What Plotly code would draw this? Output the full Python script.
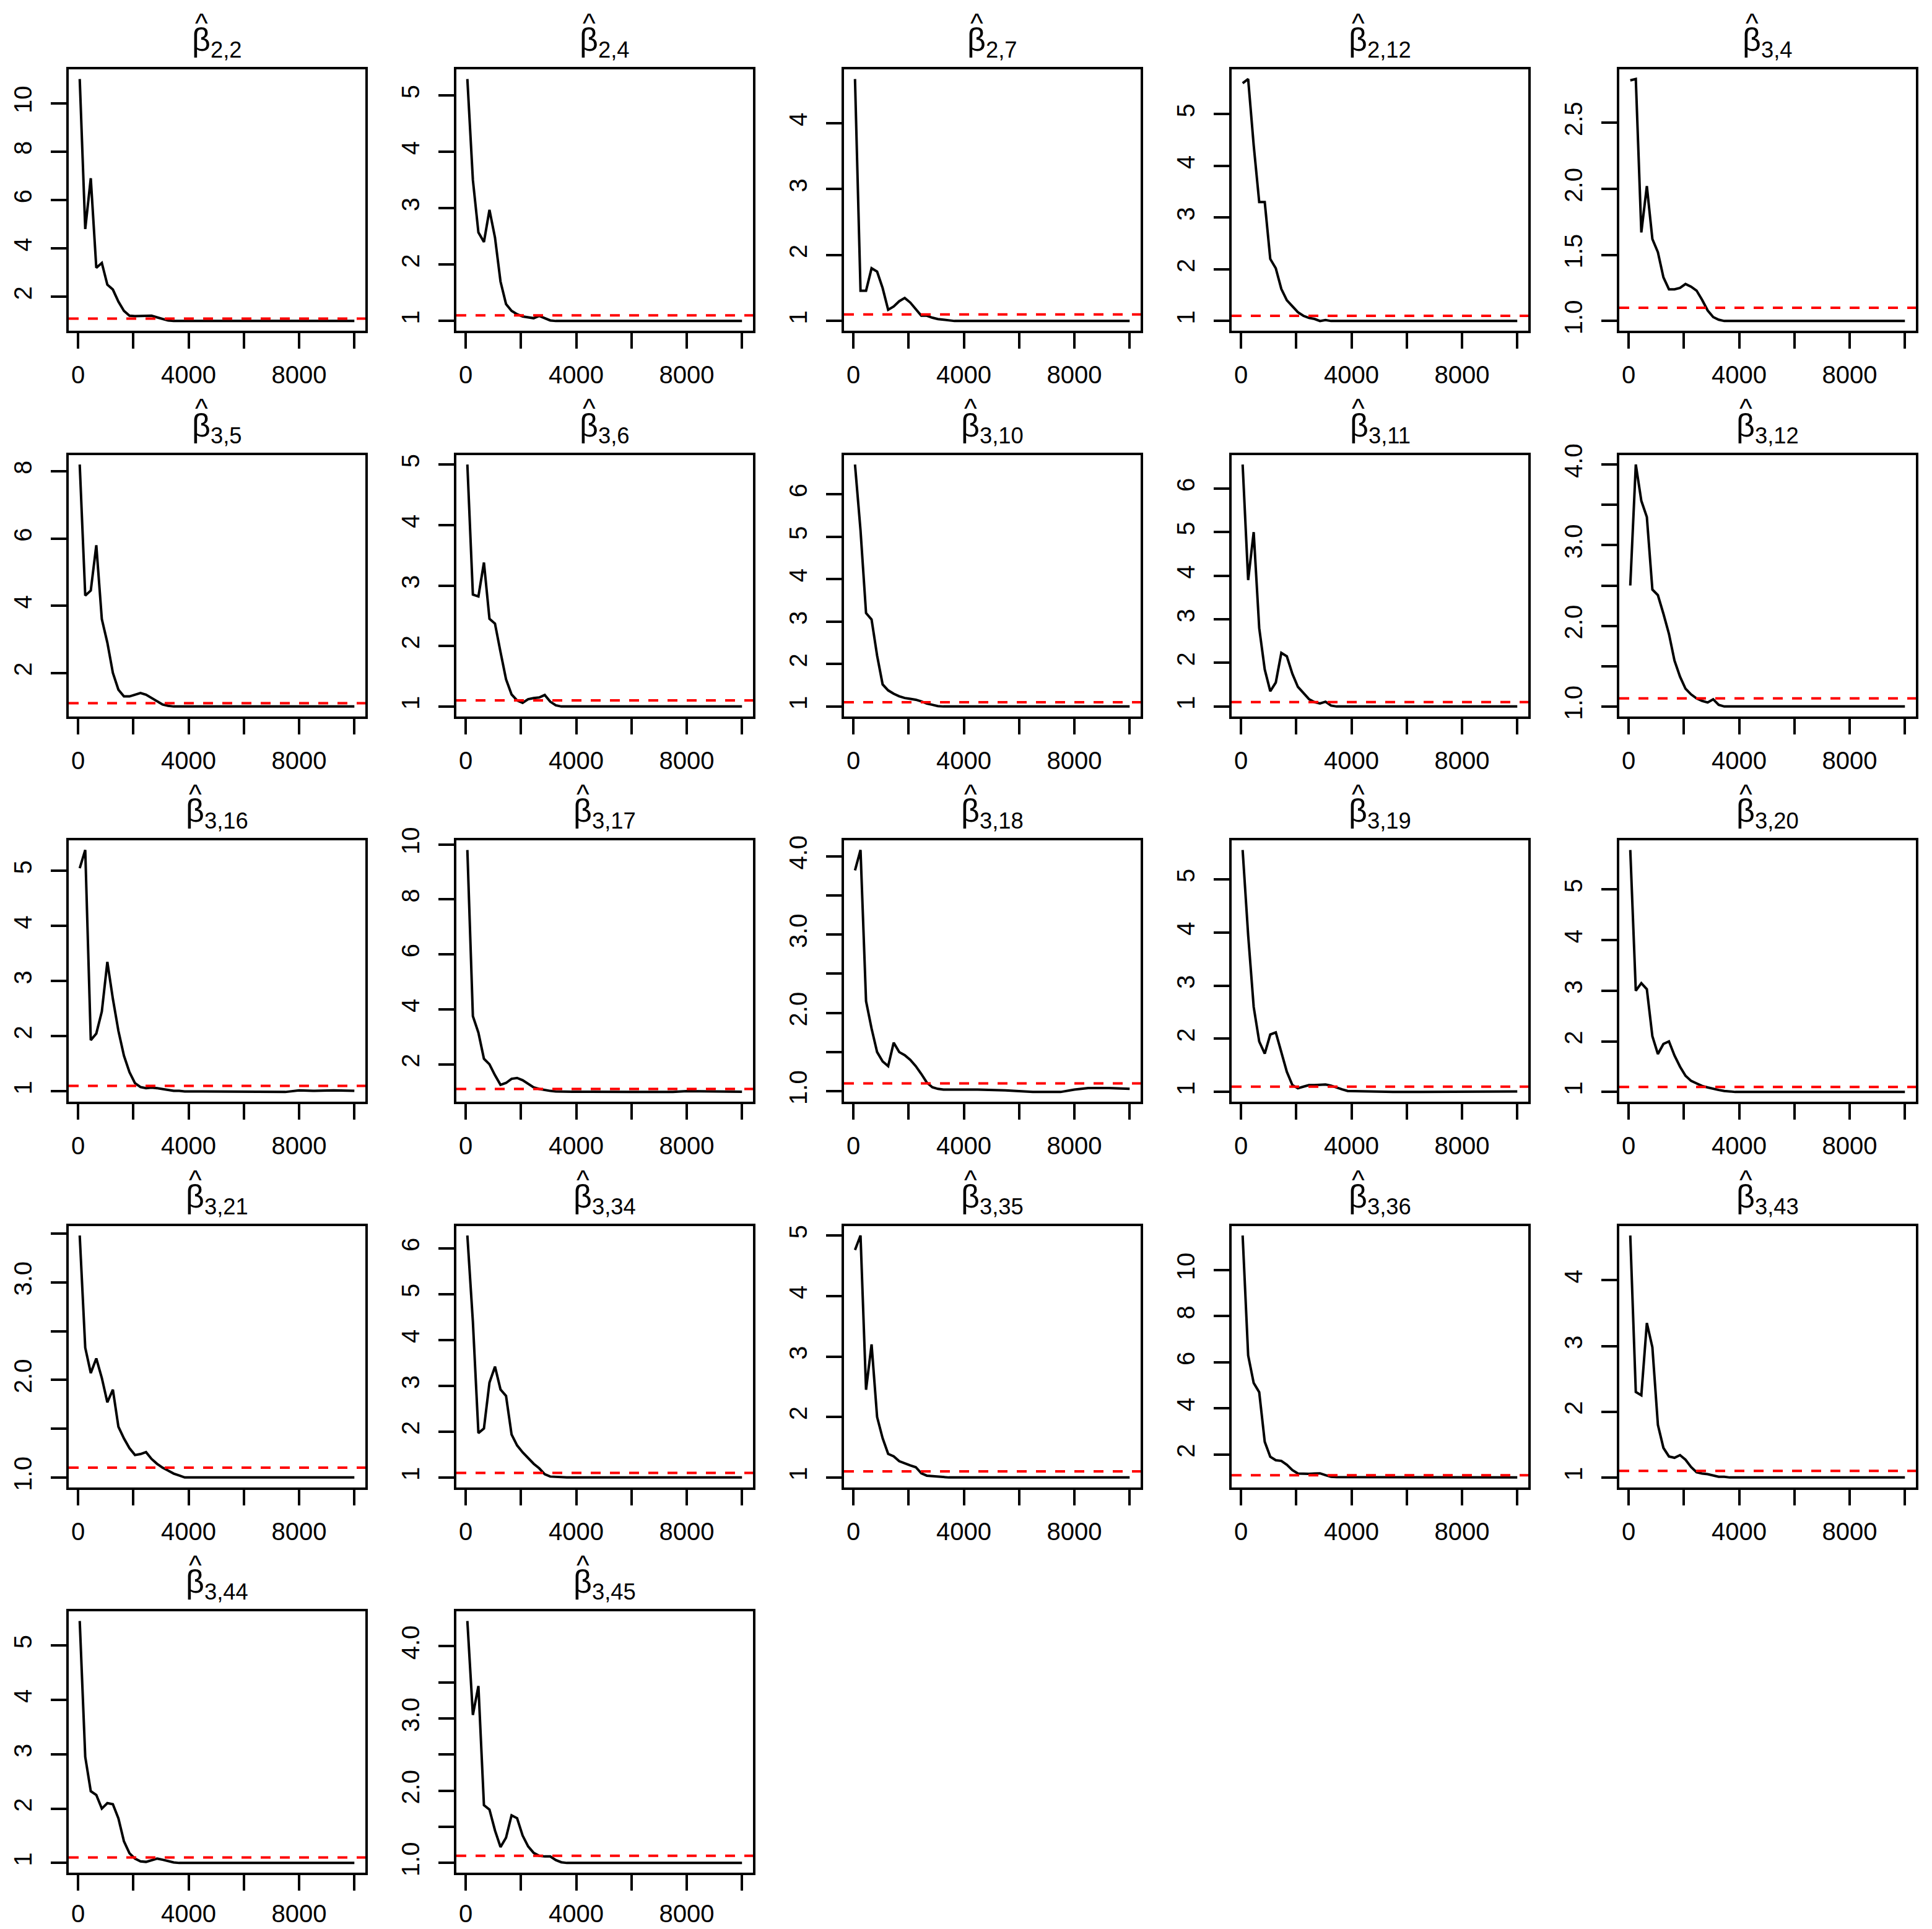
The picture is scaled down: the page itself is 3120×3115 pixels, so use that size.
import plotly.graph_objects as go

# Iteration (last iteration of each bin) at which the shrink factor was read
ITER = [60, 260, 460, 660, 860, 1060, 1260, 1460, 1660, 1860, 2060, 2260, 2460, 2660,
        2860, 3060, 3260, 3460, 3660, 3860, 4500, 5500, 6500, 7500, 8000, 8500, 9250, 10000]

SUBS = ["2,2", "2,4", "2,7", "2,12", "3,4",
        "3,5", "3,6", "3,10", "3,11", "3,12",
        "3,16", "3,17", "3,18", "3,19", "3,20",
        "3,21", "3,34", "3,35", "3,36", "3,43",
        "3,44", "3,45"]

b_2_2 = [11.0, 4.8, 6.9, 3.2, 3.4, 2.5, 2.3, 1.8, 1.42, 1.22, 1.2, 1.2, 1.2, 1.22,
         1.15, 1.08, 1.02, 1.0, 1.0, 1.0, 1.0, 1.0, 1.0, 1.0, 1.0, 1.0, 1.0, 1.0]
b_2_4 = [5.29, 3.5, 2.57, 2.4, 2.97, 2.48, 1.7, 1.3, 1.18, 1.12, 1.08, 1.06, 1.05, 1.09,
         1.05, 1.01, 1.0, 1.0, 1.0, 1.0, 1.0, 1.0, 1.0, 1.0, 1.0, 1.0, 1.0, 1.0]
b_2_7 = [4.67, 1.46, 1.46, 1.8, 1.75, 1.5, 1.17, 1.22, 1.3, 1.35, 1.28, 1.18, 1.08, 1.08,
         1.05, 1.03, 1.02, 1.01, 1.0, 1.0, 1.0, 1.0, 1.0, 1.0, 1.0, 1.0, 1.0, 1.0]
b_2_12 = [5.6, 5.68, 4.4, 3.3, 3.3, 2.2, 2.02, 1.62, 1.4, 1.28, 1.17, 1.1, 1.06, 1.04,
          1.0, 1.02, 1.0, 1.0, 1.0, 1.0, 1.0, 1.0, 1.0, 1.0, 1.0, 1.0, 1.0, 1.0]
b_3_4 = [2.82, 2.83, 1.67, 2.02, 1.62, 1.52, 1.33, 1.24, 1.24, 1.25, 1.28, 1.26, 1.23, 1.16,
         1.08, 1.03, 1.01, 1.0, 1.0, 1.0, 1.0, 1.0, 1.0, 1.0, 1.0, 1.0, 1.0, 1.0]
b_3_5 = [8.2, 4.3, 4.45, 5.8, 3.6, 2.9, 2.0, 1.5, 1.3, 1.3, 1.35, 1.4, 1.35, 1.25,
         1.15, 1.06, 1.02, 1.0, 1.0, 1.0, 1.0, 1.0, 1.0, 1.0, 1.0, 1.0, 1.0, 1.0]
b_3_6 = [5.0, 2.85, 2.82, 3.38, 2.45, 2.37, 1.9, 1.45, 1.2, 1.1, 1.06, 1.12, 1.14, 1.15,
         1.19, 1.08, 1.02, 1.0, 1.0, 1.0, 1.0, 1.0, 1.0, 1.0, 1.0, 1.0, 1.0, 1.0]
b_3_10 = [6.7, 5.15, 3.2, 3.05, 2.2, 1.52, 1.38, 1.3, 1.24, 1.2, 1.18, 1.16, 1.12, 1.07,
          1.04, 1.01, 1.0, 1.0, 1.0, 1.0, 1.0, 1.0, 1.0, 1.0, 1.0, 1.0, 1.0, 1.0]
b_3_11 = [6.55, 3.9, 5.0, 2.8, 1.85, 1.35, 1.55, 2.23, 2.15, 1.75, 1.45, 1.3, 1.17, 1.1,
          1.07, 1.11, 1.02, 1.0, 1.0, 1.0, 1.0, 1.0, 1.0, 1.0, 1.0, 1.0, 1.0, 1.0]
b_3_12 = [2.5, 4.0, 3.55, 3.35, 2.45, 2.38, 2.15, 1.9, 1.57, 1.37, 1.22, 1.15, 1.1, 1.07,
          1.05, 1.09, 1.02, 1.0, 1.0, 1.0, 1.0, 1.0, 1.0, 1.0, 1.0, 1.0, 1.0, 1.0]
b_3_16 = [5.05, 5.38, 1.93, 2.05, 2.45, 3.35, 2.68, 2.1, 1.65, 1.35, 1.15, 1.08, 1.06, 1.07,
          1.06, 1.04, 1.02, 1.01, 1.01, 1.0, 1.0, 1.0, 0.99, 0.99, 1.02, 1.01, 1.02, 1.01]
b_3_17 = [9.8, 3.75, 3.15, 2.2, 2.0, 1.6, 1.25, 1.32, 1.47, 1.5, 1.42, 1.28, 1.16, 1.1,
          1.06, 1.03, 1.01, 1.0, 1.0, 1.0, 1.0, 1.0, 0.99, 0.99, 1.02, 1.02, 1.01, 1.0]
b_3_18 = [3.82, 4.08, 2.15, 1.8, 1.5, 1.38, 1.32, 1.62, 1.5, 1.46, 1.4, 1.32, 1.22, 1.11,
          1.05, 1.03, 1.02, 1.02, 1.02, 1.02, 1.02, 1.01, 0.99, 0.99, 1.02, 1.04, 1.04, 1.03]
b_3_19 = [5.55, 3.95, 2.6, 1.95, 1.72, 2.08, 2.12, 1.73, 1.38, 1.13, 1.07, 1.1, 1.13, 1.13,
          1.14, 1.14, 1.12, 1.08, 1.05, 1.02, 1.01, 1.0, 1.0, 1.0, 1.01, 1.0, 1.0, 1.01]
b_3_20 = [5.78, 3.0, 3.15, 3.03, 2.1, 1.75, 1.95, 2.0, 1.72, 1.5, 1.32, 1.22, 1.17, 1.12,
          1.09, 1.06, 1.04, 1.02, 1.01, 1.0, 1.0, 1.0, 1.0, 1.0, 1.0, 1.01, 1.0, 1.0]
b_3_21 = [3.48, 2.33, 2.07, 2.22, 2.02, 1.77, 1.9, 1.52, 1.4, 1.3, 1.23, 1.24, 1.26, 1.19,
          1.14, 1.1, 1.07, 1.04, 1.02, 1.0, 1.0, 1.0, 1.0, 1.0, 1.0, 1.0, 1.0, 1.0]
b_3_34 = [6.28, 4.4, 1.97, 2.07, 3.07, 3.42, 2.92, 2.78, 1.94, 1.7, 1.55, 1.42, 1.3, 1.2,
          1.07, 1.02, 1.01, 1.0, 1.0, 1.0, 1.0, 1.0, 1.0, 1.0, 1.0, 1.0, 1.0, 1.0]
b_3_35 = [4.76, 5.0, 2.45, 3.2, 2.0, 1.65, 1.39, 1.35, 1.27, 1.23, 1.2, 1.17, 1.07, 1.03,
          1.02, 1.01, 1.0, 1.0, 1.0, 1.0, 1.0, 1.0, 1.0, 1.0, 1.0, 1.0, 1.0, 1.0]
b_3_36 = [11.5, 6.3, 5.1, 4.7, 2.55, 1.9, 1.75, 1.72, 1.55, 1.32, 1.17, 1.16, 1.16, 1.17,
          1.18, 1.1, 1.03, 1.02, 1.02, 1.02, 1.02, 1.01, 1.01, 1.0, 1.0, 1.0, 1.0, 1.0]
b_3_43 = [4.68, 2.3, 2.25, 3.35, 2.98, 1.8, 1.45, 1.32, 1.3, 1.34, 1.27, 1.16, 1.08, 1.06,
          1.05, 1.03, 1.01, 1.01, 1.0, 1.0, 1.0, 1.0, 1.0, 1.0, 1.0, 1.0, 1.0, 1.0]
b_3_44 = [5.45, 2.95, 2.32, 2.25, 2.0, 2.1, 2.08, 1.82, 1.4, 1.18, 1.08, 1.03, 1.02, 1.05,
          1.08, 1.06, 1.03, 1.01, 1.0, 1.0, 1.0, 1.0, 1.0, 1.0, 1.0, 1.0, 1.0, 1.0]
b_3_45 = [4.35, 3.05, 3.45, 1.8, 1.74, 1.45, 1.22, 1.35, 1.66, 1.62, 1.38, 1.23, 1.14, 1.1,
          1.09, 1.09, 1.04, 1.01, 1.0, 1.0, 1.0, 1.0, 1.0, 1.0, 1.0, 1.0, 1.0, 1.0]

SERIES = [b_2_2, b_2_4, b_2_7, b_2_12, b_3_4, b_3_5, b_3_6, b_3_10, b_3_11, b_3_12,
          b_3_16, b_3_17, b_3_18, b_3_19, b_3_20, b_3_21, b_3_34, b_3_35, b_3_36,
          b_3_43, b_3_44, b_3_45]

# y tick positions and labels (R pretty; some labels dropped as in the original)
I5 = [1, 2, 3, 4, 5]
YTICKS = [
    ([2, 4, 6, 8, 10], ["2", "4", "6", "8", "10"]),
    (I5, ["1", "2", "3", "4", "5"]),
    ([1, 2, 3, 4], ["1", "2", "3", "4"]),
    (I5, ["1", "2", "3", "4", "5"]),
    ([1.0, 1.5, 2.0, 2.5], ["1.0", "1.5", "2.0", "2.5"]),
    ([2, 4, 6, 8], ["2", "4", "6", "8"]),
    (I5, ["1", "2", "3", "4", "5"]),
    ([1, 2, 3, 4, 5, 6], ["1", "2", "3", "4", "5", "6"]),
    ([1, 2, 3, 4, 5, 6], ["1", "2", "3", "4", "5", "6"]),
    ([1.0, 1.5, 2.0, 2.5, 3.0, 3.5, 4.0], ["1.0", "", "2.0", "", "3.0", "", "4.0"]),
    (I5, ["1", "2", "3", "4", "5"]),
    ([2, 4, 6, 8, 10], ["2", "4", "6", "8", "10"]),
    ([1.0, 1.5, 2.0, 2.5, 3.0, 3.5, 4.0], ["1.0", "", "2.0", "", "3.0", "", "4.0"]),
    (I5, ["1", "2", "3", "4", "5"]),
    (I5, ["1", "2", "3", "4", "5"]),
    ([1.0, 1.5, 2.0, 2.5, 3.0, 3.5], ["1.0", "", "2.0", "", "3.0", ""]),
    ([1, 2, 3, 4, 5, 6], ["1", "2", "3", "4", "5", "6"]),
    (I5, ["1", "2", "3", "4", "5"]),
    ([2, 4, 6, 8, 10], ["2", "4", "6", "8", "10"]),
    ([1, 2, 3, 4], ["1", "2", "3", "4"]),
    (I5, ["1", "2", "3", "4", "5"]),
    ([1.0, 1.5, 2.0, 2.5, 3.0, 3.5, 4.0], ["1.0", "", "2.0", "", "3.0", "", "4.0"]),
]

XTICKS = [0, 2000, 4000, 6000, 8000, 10000]
XLABELS = ["0", "", "4000", "", "8000", ""]
THRESH = 1.1

W, H = 3120, 3115
FONT = "Liberation Sans, Arial, Helvetica, sans-serif"
BOX_W, BOX_H = 479, 422
LEFT0, TOP0 = 111, 112
PITCH_X, PITCH_Y = 626, 622.5
TITLE_SIZE = 52
SUB_SIZE = TITLE_SIZE * 0.7

fig = go.Figure()
layout = dict(width=W, height=H,
              margin=dict(l=0, r=0, t=0, b=0, pad=0, autoexpand=False),
              paper_bgcolor="white", plot_bgcolor="white", showlegend=False,
              font=dict(family=FONT, color="black", size=40))
shapes, annotations = [], []


def char_w(c):
    return 0.278 if c == "," else 0.556


for i, (sub, vals) in enumerate(zip(SUBS, SERIES)):
    r, c = divmod(i, 5)
    left = LEFT0 + PITCH_X * c
    top = TOP0 + PITCH_Y * r
    n = "" if i == 0 else str(i + 1)
    xa, ya = "x" + n, "y" + n

    x0, x1 = min(ITER), max(ITER)
    xp = 0.04 * (x1 - x0)
    y0, y1 = min(vals), max(vals)
    yp = 0.04 * (y1 - y0)

    fig.add_trace(go.Scatter(x=ITER, y=vals, mode="lines", xaxis=xa, yaxis=ya,
                             line=dict(color="black", width=4), hoverinfo="skip"))

    axis_common = dict(showline=True, mirror=True, linecolor="black", linewidth=4,
                       ticks="outside", ticklen=25, tickwidth=4, tickcolor="black",
                       showgrid=False, zeroline=False,
                       tickfont=dict(family=FONT, size=40, color="black"))
    layout["xaxis" + n] = dict(axis_common, domain=[left / W, (left + BOX_W) / W],
                               anchor=ya, range=[x0 - xp, x1 + xp],
                               tickmode="array", tickvals=XTICKS, ticktext=XLABELS,
                               ticklabelstandoff=3 if r == 4 else 8)
    tv, tt = YTICKS[i]
    layout["yaxis" + n] = dict(axis_common, domain=[1 - (top + BOX_H) / H, 1 - top / H],
                               anchor=xa, range=[y0 - yp, y1 + yp],
                               tickmode="array", tickvals=tv, ticktext=tt,
                               tickangle=-90, ticklabelstandoff=15)

    shapes.append(dict(type="line", xref=xa + " domain", yref=ya, x0=0, x1=1,
                       y0=THRESH, y1=THRESH,
                       line=dict(color="#FF0000", width=4, dash="16px,15px")))

    # title: beta with hat and subscript
    cx = left + BOX_W / 2
    beta_w = 0.57 * TITLE_SIZE
    sub_w = sum(char_w(ch) for ch in sub) * SUB_SIZE
    total = beta_w + sub_w
    beta_cx = cx - total / 2 + beta_w / 2
    annotations.append(dict(xref="paper", yref="paper", x=cx / W, y=1 - (top - 9) / H,
                            xanchor="center", yanchor="bottom", showarrow=False,
                            text="β<sub>" + sub + "</sub>",
                            font=dict(family=FONT, size=TITLE_SIZE, color="black")))
    annotations.append(dict(xref="paper", yref="paper", x=beta_cx / W, y=1 - (top - 48) / H,
                            xanchor="center", yanchor="bottom", showarrow=False,
                            text="^",
                            font=dict(family=FONT, size=44, color="black")))

layout["shapes"] = shapes
layout["annotations"] = annotations
fig.update_layout(**layout)
fig.write_html("out.html",
               config={"displayModeBar": False, "staticPlot": True},
               post_script="document.body.style.margin='0px';"
                           "document.body.style.overflow='hidden';")
